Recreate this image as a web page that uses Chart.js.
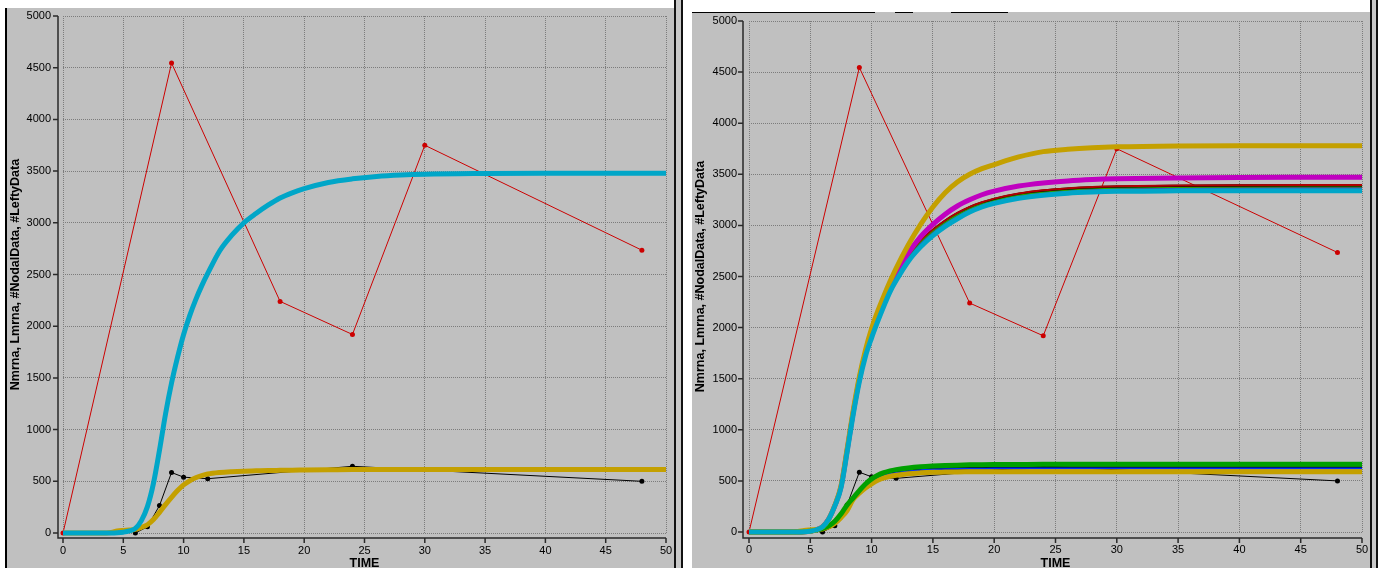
<!DOCTYPE html>
<html>
<head>
<meta charset="utf-8">
<script src="https://cdn.jsdelivr.net/npm/chart.js@4.4.1/dist/chart.umd.min.js"></script>
<style>
  html, body { margin: 0; padding: 0; background: #fff; }
  body { position: relative; width: 1381px; height: 574px; overflow: hidden; }
  canvas { position: absolute; background: #c0c0c0; }
  .blk { position: absolute; background: #000; }
  .sep { position: absolute; top: 0; height: 568px; background: #c8c8c8;
         border-left: 2px solid #111; border-right: 2px solid #111; box-sizing: border-box; }
</style>
</head>
<body>
<div class="blk" style="left:5px;top:8px;width:2px;height:560px"></div>
<canvas id="leftChart" width="667" height="560" style="left:7px;top:8px"></canvas>
<div class="sep" style="left:674px;width:9px"></div>
<canvas id="rightChart" width="678" height="556" style="left:692px;top:12px"></canvas>
<div class="blk" style="left:692px;top:12px;width:183px;height:1px"></div>
<div class="blk" style="left:895px;top:12px;width:18px;height:1px"></div>
<div class="blk" style="left:951px;top:12px;width:57px;height:1px"></div>
<div class="sep" style="left:1370px;width:8px"></div>
<script>
// simulation time grid
const T = [0, 1, 2, 3, 4, 4.5, 5, 5.5, 6, 6.5, 7, 7.5, 8, 8.5, 9, 9.5, 10, 10.5, 11, 11.5, 12,
           13, 14, 15, 16, 17, 18, 19, 20, 22, 24, 26, 28, 30, 35, 40, 45, 50];

// measured data (same in both panels)
const nodalTimes = [0, 9, 18, 24, 30, 48];
const nodalData  = [0, 4545, 2240, 1920, 3750, 2735];
const leftyTimes = [6, 7, 8, 9, 10, 12, 24, 48];
const leftyData  = [0, 60, 265, 585, 540, 525, 645, 500];

// left panel: single run
const leftNmrna = [0, 0, 0, 0, 0, 2, 8, 20, 45, 120, 255, 480, 800, 1150, 1450, 1700, 1920, 2100, 2255, 2390, 2510,
                   2730, 2880, 3000, 3090, 3170, 3240, 3290, 3330, 3390, 3425, 3448, 3462, 3470, 3477, 3480, 3480, 3480];
const leftLmrna = [0, 0, 0, 0, 5, 20, 25, 28, 35, 55, 80, 130, 200, 275, 345, 410, 465, 505, 535, 555, 570,
                   585, 593, 598, 601, 604, 606, 608, 609, 611, 613, 614, 615, 615, 615, 615, 615, 615];

// right panel: several runs
const rNmrnaGold    = [0, 0, 0, 0, 0, 2, 8, 22, 50, 125, 260, 450, 810, 1190, 1520, 1780, 1990, 2160, 2310, 2450, 2580,
                       2810, 3010, 3180, 3320, 3425, 3500, 3555, 3595, 3670, 3722, 3745, 3760, 3769, 3778, 3780, 3780, 3780];
const rNmrnaMagenta = [0, 0, 0, 0, 0, 2, 8, 22, 52, 126, 258, 440, 795, 1170, 1495, 1750, 1940, 2110, 2265, 2400, 2520,
                       2730, 2890, 3010, 3110, 3190, 3250, 3300, 3335, 3385, 3415, 3435, 3448, 3456, 3465, 3469, 3470, 3470];
const rNmrnaRed     = [0, 0, 0, 0, 0, 2, 8, 22, 50, 125, 256, 436, 790, 1162, 1485, 1738, 1923, 2088, 2242, 2380, 2495,
                       2696, 2847, 2957, 3048, 3122, 3182, 3227, 3262, 3312, 3344, 3363, 3376, 3383, 3391, 3394, 3395, 3395];
const rNmrnaBlack   = [0, 0, 0, 0, 0, 2, 8, 22, 50, 125, 256, 435, 788, 1160, 1482, 1735, 1920, 2085, 2238, 2375, 2490,
                       2690, 2840, 2950, 3040, 3115, 3175, 3220, 3255, 3305, 3337, 3356, 3368, 3375, 3383, 3387, 3388, 3388];
const rNmrnaGreen   = [0, 0, 0, 0, 0, 2, 8, 22, 50, 125, 256, 434, 786, 1157, 1478, 1730, 1914, 2078, 2230, 2366, 2480,
                       2678, 2828, 2938, 3026, 3100, 3160, 3205, 3240, 3290, 3320, 3340, 3352, 3359, 3366, 3369, 3370, 3370];
const rNmrnaPurple  = [0, 0, 0, 0, 0, 2, 8, 22, 50, 125, 255, 432, 784, 1154, 1475, 1726, 1908, 2070, 2222, 2358, 2472,
                       2668, 2815, 2922, 3010, 3084, 3146, 3192, 3227, 3277, 3308, 3328, 3341, 3348, 3356, 3359, 3360, 3360];
const rNmrnaCyan    = [0, 0, 0, 0, 0, 2, 8, 22, 50, 125, 255, 430, 780, 1150, 1470, 1720, 1900, 2060, 2210, 2350, 2460,
                       2650, 2790, 2900, 2990, 3065, 3130, 3180, 3215, 3265, 3296, 3315, 3326, 3333, 3338, 3340, 3340, 3340];

const rLmrnaGreen = [0, 0, 0, 0, 0, 2, 8, 18, 35, 60, 105, 175, 265, 335, 405, 470, 520, 555, 580, 598, 610,
                     627, 638, 645, 650, 654, 657, 659, 660, 661, 662, 662, 662, 662, 662, 662, 662, 662];
const rLmrnaBlack = [0, 0, 0, 0, 0, 2, 8, 18, 34, 58, 102, 170, 258, 325, 392, 455, 502, 535, 558, 574, 586,
                     602, 611, 617, 621, 624, 625, 626, 627, 627, 628, 628, 628, 628, 628, 628, 628, 628];
const rLmrnaBlue  = [0, 0, 0, 0, 0, 2, 8, 18, 34, 58, 101, 168, 255, 322, 388, 450, 497, 530, 553, 569, 581,
                     597, 607, 613, 617, 620, 621, 622, 623, 623, 624, 624, 624, 624, 624, 624, 624, 624];
const rLmrnaGold  = [0, 0, 0, 0, 5, 15, 20, 24, 30, 48, 85, 140, 210, 320, 380, 430, 470, 505, 530, 545, 556,
                     571, 579, 584, 586, 588, 589, 590, 590, 590, 590, 590, 590, 590, 590, 590, 590, 590];

const xTicks = { min: 0, max: 50, step: 5 };
const yTicks = { min: 0, max: 5000, step: 500 };

const tickFont = { family: '"Liberation Sans", Arial, sans-serif', size: 11 };
const titleFont = { family: '"Liberation Sans", Arial, sans-serif', size: 12.5, weight: 'bold' };

function pts(xs, ys) {
    return xs.map((x, i) => ({ x: x, y: ys[i] }));
}

function curve(ys, color, width, order) {
    return {
        data: pts(T, ys), borderColor: color, borderWidth: width,
        pointRadius: 0, cubicInterpolationMode: 'monotone', order: order, clip: 6
    };
}

function measured(xs, ys, color, order) {
    return {
        data: pts(xs, ys), borderColor: color, borderWidth: 1, tension: 0,
        pointRadius: 2.5, pointBackgroundColor: color, pointBorderWidth: 0, order: order, clip: 6
    };
}

// axis lines sit a few pixels outside the plot area, like the original tool draws them
const axisLines = {
    id: 'axisLines',
    afterDraw(chart, args, opts) {
        const { ctx, chartArea: a, scales: { x, y } } = chart;
        const ax = a.left - opts.offset;
        const ay = a.bottom + opts.offset;
        ctx.save();
        ctx.strokeStyle = '#2a2a2a';
        ctx.lineWidth = 1.5;
        ctx.beginPath();
        ctx.moveTo(ax, a.top);
        ctx.lineTo(ax, ay);
        ctx.lineTo(a.right, ay);
        y.ticks.forEach(t => {
            const py = y.getPixelForValue(t.value);
            ctx.moveTo(ax - 5, py);
            ctx.lineTo(ax, py);
        });
        x.ticks.forEach(t => {
            const px = x.getPixelForValue(t.value);
            ctx.moveTo(px, ay);
            ctx.lineTo(px, ay + 5);
        });
        ctx.stroke();
        ctx.restore();
    }
};

function buildChart(id, datasets, box) {
    return new Chart(document.getElementById(id), {
        type: 'line',
        data: { datasets: datasets },
        options: {
            responsive: false,
            animation: false,
            events: [],
            layout: { padding: { top: box.top, right: box.right, left: 0, bottom: 0 } },
            plugins: {
                legend: { display: false },
                tooltip: { enabled: false },
                axisLines: { offset: box.off }
            },
            scales: {
                x: {
                    type: 'linear', min: xTicks.min, max: xTicks.max,
                    ticks: { stepSize: xTicks.step, padding: 11, font: tickFont, color: '#000', maxRotation: 0,
                             callback: v => String(v) },
                    grid: { color: '#7c7c7c', lineWidth: 1, drawTicks: false },
                    border: { display: false, dash: [1, 1] },
                    title: { display: true, text: 'TIME', font: titleFont, color: '#000',
                             padding: { top: 0, bottom: box.xTitlePad } },
                    afterFit: s => { s.height = box.xh; s.paddingLeft = 0; s.paddingRight = 0; }
                },
                y: {
                    type: 'linear', min: yTicks.min, max: yTicks.max,
                    ticks: { stepSize: yTicks.step, padding: 12, font: tickFont, color: '#000',
                             callback: v => String(v) },
                    grid: { color: '#7c7c7c', lineWidth: 1, drawTicks: false },
                    border: { display: false, dash: [1, 1] },
                    title: { display: true, text: 'Nmrna, Lmrna, #NodalData, #LeftyData', font: titleFont,
                             color: '#000', padding: { top: 1, bottom: 0 } },
                    afterFit: s => { s.width = box.yw; s.paddingTop = 0; s.paddingBottom = 0; }
                }
            }
        },
        plugins: [axisLines]
    });
}

document.addEventListener('DOMContentLoaded', () => {
    // Left panel
    buildChart('leftChart', [
        curve(leftNmrna, '#00a6c8', 5, 0),
        curve(leftLmrna, '#c4a000', 5, 1),
        measured(leftyTimes, leftyData, '#000000', 5),
        measured(nodalTimes, nodalData, '#cc0000', 6)
    ], { top: 8, right: 8, yw: 56, xh: 35, off: 5, xTitlePad: -3.5 });

    // Right panel
    buildChart('rightChart', [
        curve(rNmrnaCyan, '#00a6c8', 5, 0),
        curve(rNmrnaGold, '#c4a000', 5, 1),
        curve(rNmrnaMagenta, '#c000c0', 5, 2),
        curve(rNmrnaPurple, '#5020c0', 2, 3),
        curve(rNmrnaGreen, '#30a000', 2, 3),
        curve(rNmrnaRed, '#b00000', 2, 3),
        curve(rNmrnaBlack, '#000000', 3, 3),
        curve(rLmrnaGreen, '#00a000', 5, 1),
        curve(rLmrnaGold, '#c4a000', 5, 1),
        curve(rLmrnaBlue, '#0030ff', 1.5, 2),
        curve(rLmrnaBlack, '#000000', 3, 4),
        measured(leftyTimes, leftyData, '#000000', 5),
        measured(nodalTimes, nodalData, '#cc0000', 6)
    ], { top: 9, right: 8, yw: 57, xh: 36, off: 6, xTitlePad: -2.7 });
});
</script>
</body>
</html>
